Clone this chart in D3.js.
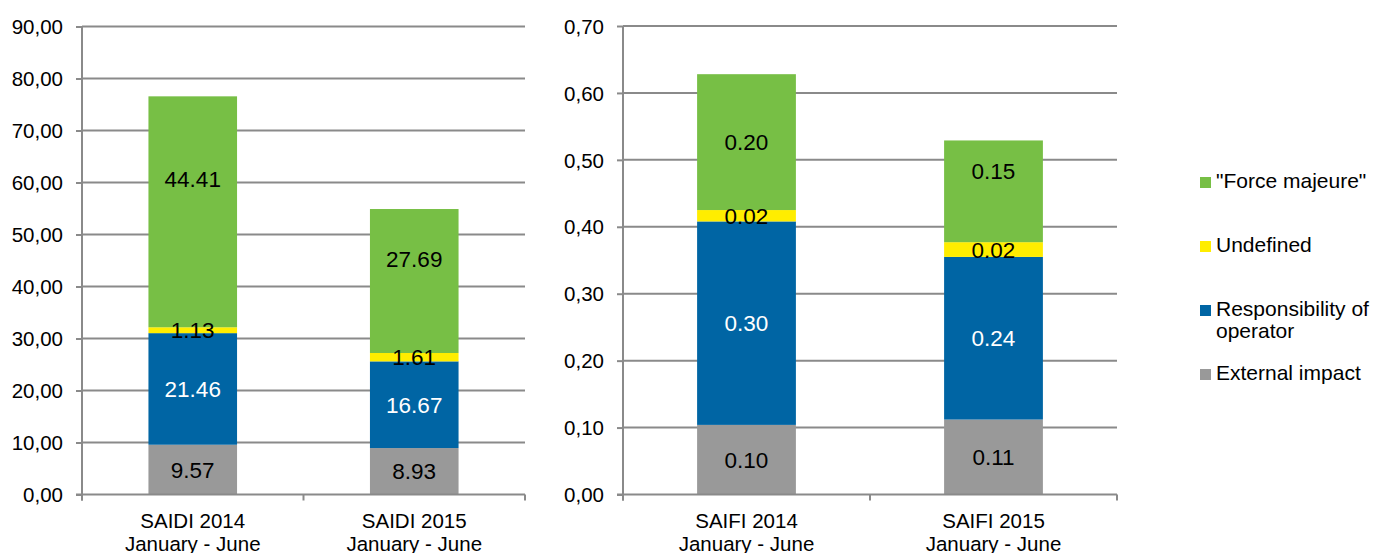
<!DOCTYPE html>
<html>
<head>
<meta charset="utf-8">
<script src="https://cdn.jsdelivr.net/npm/d3@7"></script>
<style>
  body { margin: 0; background: #fff; }
  svg text { font-family: "Liberation Sans", Arial, sans-serif; fill: #000; }
</style>
</head>
<body>
<script>
// series, bottom to top in the stack
var series = ["External impact", "Responsibility of operator", "Undefined", "\"Force majeure\""];
var seriesColors = ["#999999", "#0065a4", "#ffed00", "#77bf45"];

// SAIDI chart (left)
var saidiCats = ["SAIDI 2014", "SAIDI 2015"];
var saidiExternal = [9.57, 8.93];
var saidiOperator = [21.46, 16.67];
var saidiUndefined = [1.13, 1.61];
var saidiForce = [44.41, 27.69];
var saidiTicks = [0, 10, 20, 30, 40, 50, 60, 70, 80, 90];

// SAIFI chart (right)
var saifiCats = ["SAIFI 2014", "SAIFI 2015"];
var saifiExternal = [0.104, 0.112];
var saifiOperator = [0.304, 0.243];
var saifiUndefined = [0.017, 0.022];
var saifiForce = [0.203, 0.152];
var saifiTicks = [0, 0.1, 0.2, 0.3, 0.4, 0.5, 0.6, 0.7];

var subLabel = "January - June";

var w = 1373, h = 553;
var svg = d3.select("body").append("svg")
    .attr("width", w)
    .attr("height", h);

// labels that were moved by hand in the original (pixel nudges)
var labelNudge = {
    "SAIDI 2014|3": -33,
    "SAIDI 2015|3": -22,
    "SAIFI 2015|3": -20
};

function drawChart(cfg) {
    var y = d3.scaleLinear().domain([0, cfg.max]).range([cfg.y0, cfg.y1]);
    var x = d3.scaleBand().domain(cfg.cats).range([cfg.x0, cfg.x1])
        .paddingInner(0.6).paddingOuter(0.3);

    var g = svg.append("g");
    var comma = function(v){ return d3.format(".2f")(v).replace(".", ","); };

    // gridlines
    g.selectAll(".grid")
        .data(cfg.ticks.slice(1))
        .enter()
        .append("line")
        .attr("x1", cfg.x0).attr("x2", cfg.x1)
        .attr("y1", function(d){ return y(d); })
        .attr("y2", function(d){ return y(d); })
        .style("stroke", "#8a8a8a")
        .style("stroke-width", 2);

    // stacked data
    var rows = cfg.cats.map(function(c, i){
        var r = { cat: c };
        cfg.values.forEach(function(arr, k){ r[k] = arr[i]; });
        return r;
    });
    var stack = d3.stack().keys(d3.range(cfg.values.length))(rows);

    stack.forEach(function(layer, k){
        g.selectAll(".bar" + k)
            .data(layer)
            .enter()
            .append("rect")
            .attr("x", function(d){ return x(d.data.cat); })
            .attr("width", x.bandwidth())
            .attr("y", function(d){ return y(d[1]); })
            .attr("height", function(d){ return y(d[0]) - y(d[1]); })
            .style("fill", seriesColors[k]);
    });

    // value labels
    stack.forEach(function(layer, k){
        g.selectAll(".lbl" + k)
            .data(layer)
            .enter()
            .append("text")
            .attr("text-anchor", "middle")
            .attr("x", function(d){ return x(d.data.cat) + x.bandwidth() / 2; })
            .attr("y", function(d){
                var mid = (y(d[0]) + y(d[1])) / 2;
                var n = labelNudge[d.data.cat + "|" + k] || 0;
                return mid + n + 8;
            })
            .style("font-size", "22.5px")
            .style("fill", k === 1 ? "#fff" : "#000")
            .text(function(d){ return d3.format(".2f")(d[1] - d[0]); });
    });

    // y axis
    var yAxis = d3.axisLeft(y).tickValues(cfg.ticks).tickSize(6).tickPadding(13).tickFormat(comma);
    var ya = g.append("g")
        .attr("transform", "translate(" + cfg.x0 + ",0)")
        .call(yAxis);
    ya.select(".domain").style("stroke", "#8a8a8a").style("stroke-width", 2)
        .attr("d", "M0," + (cfg.y0 + 6) + "V" + cfg.y1);
    ya.selectAll(".tick line").style("stroke", "#8a8a8a").style("stroke-width", 2);
    ya.selectAll(".tick text").style("font-size", "20.5px").attr("dy", "0.35em");

    // x axis line and category ticks
    g.append("line")
        .attr("x1", cfg.x0 - 6).attr("x2", cfg.x1)
        .attr("y1", y(0)).attr("y2", y(0))
        .style("stroke", "#8a8a8a").style("stroke-width", 2);
    var step = x.step();
    g.selectAll(".xtick")
        .data([0, 1, 2])
        .enter()
        .append("line")
        .attr("x1", function(d){ return cfg.x0 + d * step; })
        .attr("x2", function(d){ return cfg.x0 + d * step; })
        .attr("y1", y(0)).attr("y2", y(0) + 6)
        .style("stroke", "#8a8a8a").style("stroke-width", 2);

    // category labels
    var cl = g.selectAll(".cat")
        .data(cfg.cats)
        .enter()
        .append("text")
        .attr("text-anchor", "middle")
        .style("font-size", "20.5px");
    cl.append("tspan")
        .attr("x", function(d){ return x(d) + x.bandwidth() / 2; })
        .attr("y", 528)
        .text(function(d){ return d; });
    cl.append("tspan")
        .attr("x", function(d){ return x(d) + x.bandwidth() / 2; })
        .attr("y", 551)
        .text(subLabel);
}

drawChart({
    cats: saidiCats,
    values: [saidiExternal, saidiOperator, saidiUndefined, saidiForce],
    ticks: saidiTicks,
    max: 90,
    x0: 82, x1: 525,
    y0: 494.5, y1: 26.5
});

drawChart({
    cats: saifiCats,
    values: [saifiExternal, saifiOperator, saifiUndefined, saifiForce],
    ticks: saifiTicks,
    max: 0.7,
    x0: 623, x1: 1117,
    y0: 494.5, y1: 26
});

// legend, top to bottom
var legendItems = [
    { k: 3, lines: ["\"Force majeure\""], y: 188 },
    { k: 2, lines: ["Undefined"], y: 252 },
    { k: 1, lines: ["Responsibility of", "operator"], y: 316 },
    { k: 0, lines: ["External impact"], y: 380 }
];
var legend = svg.selectAll(".legend")
    .data(legendItems)
    .enter()
    .append("g");
legend.append("rect")
    .attr("x", 1200)
    .attr("y", function(d){ return d.y - 11; })
    .attr("width", 11).attr("height", 11)
    .style("fill", function(d){ return seriesColors[d.k]; });
var lt = legend.append("text")
    .style("font-size", "21px");
lt.selectAll("tspan")
    .data(function(d){ return d.lines.map(function(s, i){ return { s: s, y: d.y + i * 22 }; }); })
    .enter()
    .append("tspan")
    .attr("x", 1216)
    .attr("y", function(d){ return d.y; })
    .text(function(d){ return d.s; });
</script>
</body>
</html>
